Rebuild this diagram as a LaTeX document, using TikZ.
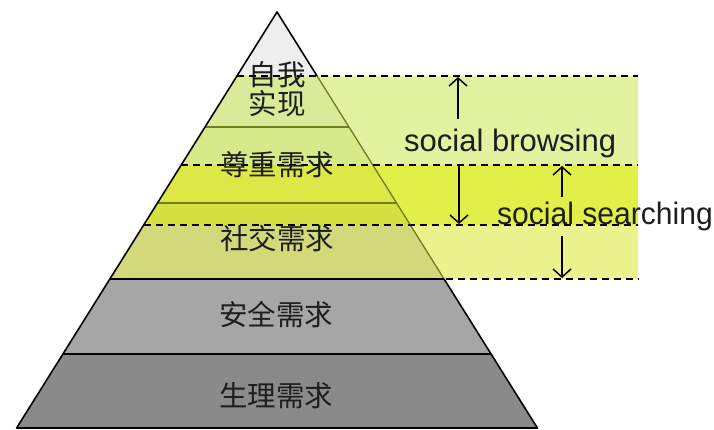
\documentclass[tikz,border=0pt]{standalone}
\usepackage{fontspec}
\setmainfont{Liberation Sans}
\newfontfamily\cjk{Noto Sans CJK SC}
\usetikzlibrary{arrows.meta}
\definecolor{topgray}{HTML}{EEEEEE}
\definecolor{pA}{HTML}{D9EB98}
\definecolor{pB}{HTML}{D8E98A}
\definecolor{pC}{HTML}{DDE746}
\definecolor{pD}{HTML}{D6DF40}
\definecolor{pE}{HTML}{D3D87A}
\definecolor{bandA}{HTML}{E2F3A0}
\definecolor{bandB}{HTML}{E1EF48}
\definecolor{bandC}{HTML}{ECF28E}
\definecolor{grayA}{HTML}{A6A6A6}
\definecolor{grayB}{HTML}{8A8A8A}
\definecolor{olive}{HTML}{6E7D1E}
\definecolor{txt}{HTML}{1E1E1E}
\begin{document}
\begin{tikzpicture}[x=1pt,y=-1pt,
  edge/.style={draw=black,line width=1.6pt,line join=round},
  oedge/.style={draw=olive,line width=1.3pt},
  dline/.style={draw=black,line width=1.4pt,dash pattern=on 7pt off 5pt},
  arr/.style={draw=black,line width=1.5pt,-{Straight Barb[length=8pt,width=18pt,line width=1.5pt]}},
  cn/.style={font=\cjk\fontsize{28.5}{30}\selectfont,text=txt,inner sep=0pt},
  en/.style={font=\fontsize{31}{34}\selectfont,text=txt,inner sep=0pt,anchor=base west}]
\useasboundingbox (0,0) rectangle (714,430);
% pyramid fills
\fill[topgray] (277,12) -- (317.1,76) -- (236.9,76) -- cycle;
\fill[pA] (236.9,76) -- (317.1,76) -- (349,127) -- (205,127) -- cycle;
\fill[pB] (205,127) -- (349,127) -- (372.8,165) -- (181.2,165) -- cycle;
\fill[pC] (181.2,165) -- (372.8,165) -- (396.6,203) -- (157.4,203) -- cycle;
\fill[pD] (157.4,203) -- (396.6,203) -- (410.3,225) -- (143.7,225) -- cycle;
\fill[pE] (143.7,225) -- (410.3,225) -- (444.1,279) -- (109.9,279) -- cycle;
\fill[grayA] (109.9,279) -- (444.1,279) -- (491.1,354) -- (62.9,354) -- cycle;
\fill[grayB] (62.9,354) -- (491.1,354) -- (537.4,428) -- (16.6,428) -- cycle;
% bands outside the pyramid
\fill[bandA] (317.1,76) -- (638,76) -- (638,165) -- (372.8,165) -- cycle;
\fill[bandB] (372.8,165) -- (638,165) -- (638,225) -- (410.3,225) -- cycle;
\fill[bandC] (410.3,225) -- (638,225) -- (638,279) -- (444.1,279) -- cycle;
% layer lines
\draw[oedge] (205,127) -- (349,127);
\draw[oedge] (157.4,203) -- (396.6,203);
\draw[oedge] (317.1,76) -- (444.1,279);
% dashed band borders
\draw[dline] (236.9,76) -- (638,76);
\draw[dline] (181.2,165) -- (638,165);
\draw[dline] (143.7,225) -- (638,225);
\draw[dline] (109.9,279) -- (638,279);
\draw[edge] (109.9,279) -- (444.1,279);
\draw[edge] (62.9,354) -- (491.1,354);
% outline
\draw[edge] (317.1,76) -- (277,12) -- (16.6,428) -- (537.4,428) -- (444.1,279);
% texts
\node[cn] (t1) at (277,75) {自我};
\node[cn] (t2) at (277,104) {实现};
\node[cn] (t3) at (277,165) {尊重需求};
\node[cn] (t4) at (277,239) {社交需求};
\node[cn] (t5) at (276,315) {安全需求};
\node[cn] (t6) at (276,396) {生理需求};
\node[en] (sb) at (404,152) {social browsing};
\node[en] (ss) at (497,225) {\scalebox{0.97}[1]{social searching}};
% arrows
\coordinate (a1s) at (458,119); \coordinate (a1e) at (458,77);
\coordinate (a2s) at (459,165); \coordinate (a2e) at (459,224);
\coordinate (a3s) at (562,197); \coordinate (a3e) at (562,166);
\coordinate (a4s) at (562,236); \coordinate (a4e) at (562,278);
\draw[arr] (a1s) -- (a1e);
\draw[arr] (a2s) -- (a2e);
\draw[arr] (a3s) -- (a3e);
\draw[arr] (a4s) -- (a4e);
\end{tikzpicture}
\end{document}
